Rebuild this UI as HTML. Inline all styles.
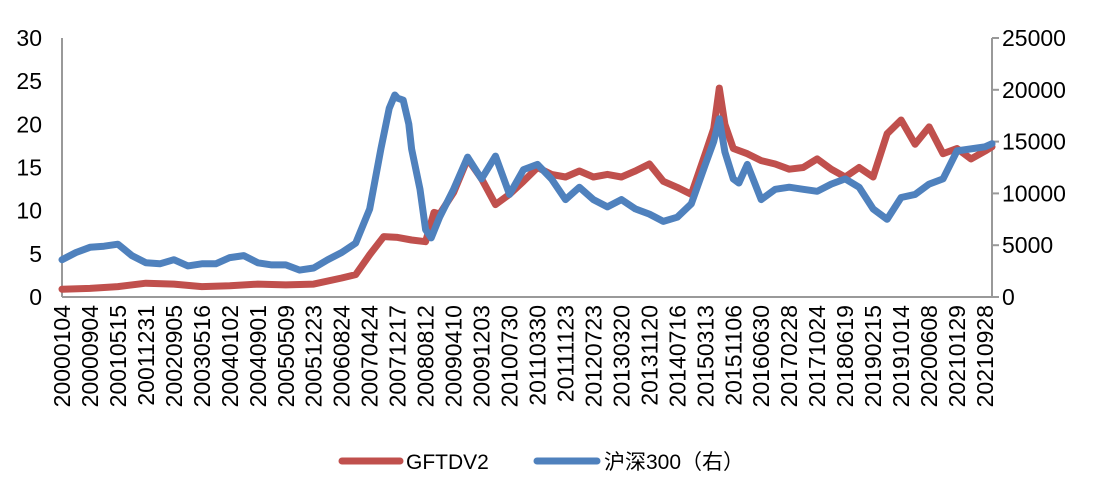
<!DOCTYPE html>
<html><head><meta charset="utf-8"><style>
body{margin:0;background:#fff;}
svg text{font-family:"Liberation Sans","Noto Sans CJK SC",sans-serif;fill:#000;}
</style></head><body>
<svg id="chart" width="1098" height="486" viewBox="0 0 1098 486" xmlns="http://www.w3.org/2000/svg">
<g id="axes"></g><g id="series"></g>
<g>
<g><line x1="342" y1="461" x2="400" y2="461" stroke="#C0504D" stroke-width="7" stroke-linecap="round"/><text x="406" y="469" font-size="21">GFTDV2</text></g>
<g><line x1="537" y1="461" x2="597" y2="461" stroke="#4F81BD" stroke-width="7" stroke-linecap="round"/><text x="604" y="469" font-size="21">沪深300（右）</text></g>
</g>
</svg>
<script>
const categories=["20000104","20000904","20010515","20011231","20020905","20030516","20040102","20040901","20050509","20051223","20060824","20070424","20071217","20080812","20090410","20091203","20100730","20110330","20111123","20120723","20130320","20131120","20140716","20150313","20151106","20160630","20170228","20171024","20180619","20190215","20191014","20200608","20210129","20210928"];
const leftTicks=[0,5,10,15,20,25,30];
const rightTicks=[0,5000,10000,15000,20000,25000];
const blueT=[0,0.5,1,1.5,2,2.5,3,3.5,4,4.5,5,5.5,6,6.5,7,7.5,8,8.5,9,9.5,10,10.5,11,11.4,11.7,11.9,12,12.2,12.4,12.5,12.8,13,13.2,13.5,14,14.5,15,15.5,16,16.5,17,17.5,18,18.5,19,19.5,20,20.5,21,21.5,22,22.5,23,23.3,23.5,23.7,24,24.2,24.5,25,25.5,26,26.5,27,27.5,28,28.5,29,29.5,30,30.5,31,31.5,32,32.5,33,33.25];
const blueVals=[3600,4300,4800,4900,5100,4000,3300,3200,3600,3000,3200,3200,3800,4000,3300,3100,3100,2600,2800,3600,4300,5200,8500,14300,18200,19500,19200,19000,16700,14300,10400,6500,5700,7700,10400,13500,11400,13600,9900,12300,12800,11400,9400,10600,9400,8700,9400,8500,8000,7300,7700,9000,12800,15000,17200,14000,11400,11000,12800,9400,10400,10600,10400,10200,10900,11400,10600,8500,7500,9600,9900,10900,11400,14100,14300,14500,14800,15300];
const redT=[0,1,2,3,4,5,6,7,8,9,10,10.5,11,11.5,12,12.5,13,13.3,13.5,14,14.5,15,15.5,16,16.5,17,17.5,18,18.5,19,19.5,20,20.5,21,21.5,22,22.5,23,23.3,23.5,23.7,24,24.5,25,25.5,26,26.5,27,27.5,28,28.5,29,29.5,30,30.5,31,31.5,32,32.5,33,33.25];
const redVals=[0.9,1.0,1.2,1.6,1.5,1.2,1.3,1.5,1.4,1.5,2.2,2.6,4.9,7.0,6.9,6.6,6.4,9.8,9.6,12.1,16.0,13.7,10.7,11.9,13.4,15.0,14.2,13.9,14.6,13.9,14.2,13.9,14.6,15.4,13.4,12.7,11.9,16.6,19.5,24.2,20.0,17.2,16.6,15.8,15.4,14.8,15.0,16.0,14.8,13.9,15.0,13.9,18.9,20.5,17.7,19.7,16.6,17.2,16.0,16.9,17.4];
const X0=62,X1=992,Y0=297,YT=38,STEP=(985-62)/33;
const xs=t=>X0+t*STEP;
const yL=v=>Y0-(v/30)*(Y0-YT);
const yR=v=>Y0-(v/25000)*(Y0-YT);
const NS="http://www.w3.org/2000/svg";
const axes=document.getElementById('axes'),ser=document.getElementById('series');
function mk(tag,attrs,parent){const e=document.createElementNS(NS,tag);for(const k in attrs)e.setAttribute(k,attrs[k]);parent.appendChild(e);return e;}
let e;
e=mk('line',{x1:X0,y1:YT,x2:X0,y2:Y0,stroke:'#999','stroke-width':2},axes);


e=mk('line',{x1:X1,y1:YT,x2:X1,y2:Y0,stroke:'#999','stroke-width':2},axes);


e=mk('line',{x1:X0,y1:Y0,x2:X1+6,y2:Y0,stroke:'#999','stroke-width':2},axes);


leftTicks.forEach(v=>{const t=mk('text',{x:42,y:yL(v)+8,'font-size':23,'text-anchor':'end'},axes);t.textContent=v;

});
rightTicks.forEach(v=>{mk('line',{x1:X1,y1:yR(v),x2:X1+7,y2:yR(v),stroke:'#999','stroke-width':2},axes);
const t=mk('text',{x:1002,y:yR(v)+8,'font-size':23},axes);t.textContent=v;

});
categories.forEach((c,i)=>{const x=xs(i)+8;const t=mk('text',{x:x,y:305,'font-size':23,'text-anchor':'end',transform:`rotate(-90 ${x} 305)`},axes);t.textContent=c;

});
function path(T,V,fy){return T.map((t,i)=>(i?'L':'M')+xs(t).toFixed(1)+','+fy(V[i]).toFixed(1)).join(' ');}
e=mk('path',{d:path(redT,redVals,yL),fill:'none',stroke:'#C0504D','stroke-width':7,'stroke-linejoin':'round','stroke-linecap':'round'},ser);


e=mk('path',{d:path(blueT,blueVals,yR),fill:'none',stroke:'#4F81BD','stroke-width':7,'stroke-linejoin':'round','stroke-linecap':'round'},ser);


</script>
</body></html>
